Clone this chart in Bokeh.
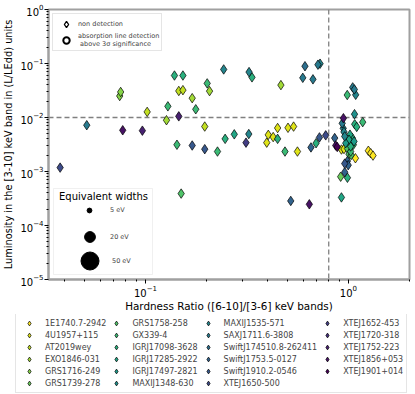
from bokeh.plotting import figure
from bokeh.models import (Legend, LegendItem, Span, BoxAnnotation, Label, Range1d,
                          FixedTicker, LogTickFormatter)
from bokeh.palettes import Viridis256
from bokeh.embed import file_html
from bokeh.resources import INLINE

FONT = "DejaVu Sans"
NAN = float("nan")

sources = ["1E1740.7-2942", "4U1957+115", "AT2019wey", "EXO1846-031", "GRS1716-249",
           "GRS1739-278", "GRS1758-258", "GX339-4", "IGRJ17098-3628", "IGRJ17285-2922",
           "IGRJ17497-2821", "MAXIJ1348-630", "MAXIJ1535-571", "SAXJ1711.6-3808",
           "SwiftJ174510.8-262411", "SwiftJ1753.5-0127", "SwiftJ1910.2-0546", "XTEJ1650-500",
           "XTEJ1652-453", "XTEJ1720-318", "XTEJ1752-223", "XTEJ1856+053", "XTEJ1901+014"]

hardness = [0.0380, 0.0514, 0.0747, 0.0755, 0.0773, 0.0966, 0.102, 0.127, 0.129, 0.139,
            0.146, 0.146, 0.153, 0.153, 0.143, 0.170, 0.170, 0.177, 0.196, 0.196,
            0.2015, 0.207, 0.243, 0.324, 0.335, 0.465, 0.611, 0.596, 0.669, 0.708,
            0.725, 0.2265, 0.247, 0.274, 0.323, 0.313, 0.396, 0.403, 0.426, 0.448,
            0.448, 0.504, 0.537, 0.487, 0.561, 0.654, 0.693, 0.720, 0.773, 0.520,
            0.642, 0.150, 1.050, 1.070, 0.987, 1.086, 1.072, 0.945, 0.932, 1.074,
            1.099, 1.176, 0.943, 0.951, 0.856, 1.018, 1.046, 1.007, 1.066, 0.970,
            1.026, 0.866, 0.881, 0.924, 0.951, 0.989, 1.026, 1.007, 1.083, 1.254,
            1.288, 1.322, 0.989, 0.959, 0.998, 0.959, 0.916, 0.989, 0.924, 1.058,
            1.032, 0.959]

luminosity = [1.18e-3, 7.2e-3, 0.0250, 0.0297, 5.8e-3, 5.7e-3, 0.0127, 8.9e-3, 0.0161, 0.0599,
              0.0105, 0.0310, 0.0599, 0.0321, 3.13e-3, 3.03e-3, 0.0228, 0.0142, 6.8e-3, 2.59e-3,
              0.0428, 0.0308, 0.0776, 0.0694, 0.0554, 0.0398, 0.0890, 0.0543, 0.0509, 0.0950,
              0.0991, 2.34e-3, 4.02e-3, 4.88e-3, 4.94e-3, 3.42e-3, 3.42e-3, 4.77e-3, 4.34e-3, 4.02e-3,
              6.39e-3, 6.45e-3, 6.79e-3, 2.34e-3, 2.34e-3, 2.79e-3, 3.34e-3, 4.28e-3, 4.67e-3, 2.85e-4,
              2.47e-4, 3.90e-4, 0.0361, 0.0331, 0.0261, 0.0263, 0.01153, 9.7e-3, 7.8e-3, 7.5e-3,
              6.7e-3, 8.2e-3, 6.3e-3, 5.4e-3, 4.16e-3, 4.81e-3, 4.16e-3, 3.88e-3, 3.61e-3, 3.35e-3,
              2.91e-3, 3.03e-3, 2.85e-3, 2.55e-3, 2.61e-3, 2.67e-3, 2.34e-3, 2.09e-3, 1.76e-3, 2.42e-3,
              2.18e-3, 1.97e-3, 1.56e-3, 1.40e-3, 1.31e-3, 9.7e-4, 8.0e-4, 7.66e-4, 3.31e-4, 3.13e-3,
              2.02e-3, 4.47e-3]

source_idx = [17, 13, 4, 4, 21, 20, 2, 3, 7, 8,
              20, 2, 8, 2, 7, 16, 3, 7, 2, 16,
              7, 3, 12, 12, 8, 3, 14, 13, 13, 13,
              12, 7, 8, 9, 12, 18, 1, 1, 1, 8,
              1, 1, 1, 7, 1, 15, 8, 16, 17, 15,
              21, 6, 13, 13, 7, 12, 11, 21, 13, 8,
              8, 7, 12, 12, 15, 9, 8, 9, 10, 10,
              8, 21, 22, 1, 1, 6, 7, 6, 0, 0,
              0, 0, 15, 16, 15, 15, 5, 8, 9, 7,
              6, 12]

ew_labels = ["5 eV", "20 eV", "50 eV"]
ew_sizes = [4.8, 10.8, 18.0]

x_limits = (0.0333, 2.0)
y_limits = (1e-5, 1.0)
x_major_ticks = [0.1, 1.0]
x_minor_ticks = [0.04, 0.05, 0.06, 0.07, 0.08, 0.09, 0.2, 0.3, 0.4, 0.5, 0.6, 0.7, 0.8, 0.9, 2.0]
y_major_ticks = [1e-5, 1e-4, 1e-3, 1e-2, 1e-1, 1.0]
y_minor_ticks = [m * 10.0 ** e for e in range(-5, 0) for m in range(2, 10)]
hr_threshold = 0.8
lum_threshold = 0.01

n = len(sources)
colors = [Viridis256[round(i * 255 / (n - 1))] for i in range(n)][::-1]

p = figure(width=415, height=314, x_axis_type="log", y_axis_type="log",
           x_range=Range1d(*x_limits), y_range=Range1d(*y_limits),
           output_backend="svg", toolbar_location=None,
           min_border_left=48, min_border_right=6, min_border_top=9, min_border_bottom=0)

p.grid.visible = False
p.outline_line_color = "#a0a0a0"
p.outline_line_width = 2
p.xaxis.ticker = FixedTicker(ticks=x_major_ticks, minor_ticks=x_minor_ticks)
p.yaxis.ticker = FixedTicker(ticks=y_major_ticks, minor_ticks=y_minor_ticks)
p.xaxis.formatter = LogTickFormatter()
p.yaxis.formatter = LogTickFormatter()
for ax in (p.xaxis[0], p.yaxis[0]):
    ax.axis_line_color = "#a0a0a0"
    ax.axis_line_width = 2
    ax.major_tick_line_color = "black"
    ax.minor_tick_line_color = "black"
    ax.major_tick_out = 4
    ax.major_tick_in = 0
    ax.minor_tick_out = 2
    ax.minor_tick_in = 0
    ax.major_label_text_font = FONT
    ax.major_label_text_font_size = "10px"
    ax.major_label_text_color = "black"
    ax.axis_label_text_font = FONT
    ax.axis_label_text_font_style = "normal"
    ax.axis_label_text_color = "black"
    ax.major_label_standoff = 1
p.xaxis.axis_label_standoff = 0
p.yaxis.axis_label_standoff = 3
p.xaxis.axis_label_text_font_size = "10.4px"
p.yaxis.axis_label_text_font_size = "9.8px"

p.xaxis.axis_label = "Hardness Ratio ([6-10]/[3-6] keV bands)"
p.yaxis.axis_label = "Luminosity in the [3-10] keV band in (L/LEdd) units"

p.add_layout(Span(location=lum_threshold, dimension="width", line_color="#808080",
                  line_dash="5 3", line_width=1.3, level="underlay"))
p.add_layout(Span(location=hr_threshold, dimension="height", line_color="#808080",
                  line_dash="5 3", line_width=1.3, level="underlay"))

# legend-only figure under the chart
pl = figure(width=415, height=80, output_backend="svg", toolbar_location=None,
            x_axis_location=None, y_axis_location=None, min_border=0)
pl.grid.visible = False
pl.outline_line_color = None

items = []
for k, name in enumerate(sources):
    xs = [h for h, s in zip(hardness, source_idx) if s == k]
    ys = [l for l, s in zip(luminosity, source_idx) if s == k]
    style = dict(marker="diamond", fill_color=colors[k], line_color="black", line_width=0.7)
    p.scatter(xs, ys, size=9.5, **style)
    rl = pl.scatter([NAN], [NAN], **style)
    items.append(LegendItem(label=name, renderers=[rl]))

leg_src = Legend(items=items, orientation="vertical", nrows=6, location=(15, 1),
                 glyph_width=20, glyph_height=12, spacing=0, padding=3, margin=0,
                 label_standoff=6, label_text_font=FONT, label_text_font_size="8px",
                 label_height=12,
                 border_line_color="#cccccc", border_line_width=1)
pl.add_layout(leg_src)

# marker-type legend (top left)
r_nd = p.scatter([NAN], [NAN], marker="diamond", size=9, fill_color="white", line_color="black", line_width=1.3)
r_det = p.scatter([NAN], [NAN], marker="circle", size=8, fill_color="white", line_color="black", line_width=2)
leg_type = Legend(items=[LegendItem(label="non detection", renderers=[r_nd]),
                         LegendItem(label="absorption line detection\n above 3\u03c3 significance", renderers=[r_det])],
                  location="top_left", margin=4, padding=2, spacing=0,
                  glyph_width=22, glyph_height=16, label_standoff=1, label_height=10,
                  label_text_font=FONT, label_text_font_size="6.5px",
                  border_line_color="#cccccc", border_line_width=1,
                  background_fill_alpha=0.8)
p.add_layout(leg_type)

# equivalent-width size legend (bottom left)
p.add_layout(BoxAnnotation(left=5, right=104, bottom=5, top=91,
                           left_units="screen", right_units="screen",
                           bottom_units="screen", top_units="screen",
                           fill_color="white", fill_alpha=0.8,
                           line_color="#cccccc", line_width=1))
p.add_layout(Label(x=55, y=83, x_units="screen", y_units="screen", text="Equivalent widths",
                   text_font=FONT, text_font_size="10px", text_align="center",
                   text_baseline="middle", text_color="black"))
ew_y = [69, 42, 18]
for lab, sz, cy in zip(ew_labels, ew_sizes, ew_y):
    r = p.scatter([NAN], [NAN], marker="circle", size=sz, fill_color="black", line_color="black")
    g = int(round(sz / 0.4))
    leg = Legend(items=[LegendItem(label=lab, renderers=[r])],
                 location=(41 - g // 2, cy - g // 2), padding=0, margin=0,
                 glyph_width=g, glyph_height=g, label_height=6,
                 label_standoff=int(62 - (41 + g / 2)),
                 label_text_font=FONT, label_text_font_size="6.5px",
                 border_line_color=None, background_fill_alpha=0)
    p.add_layout(leg)

open("out.html", "w").write(file_html([p, pl], INLINE))
